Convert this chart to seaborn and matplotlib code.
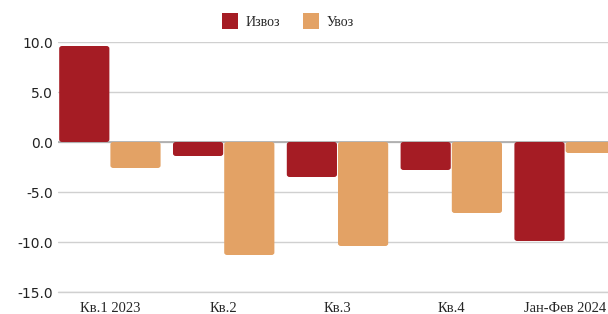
import pandas as pd
import seaborn as sns
import matplotlib.pyplot as plt
from matplotlib.patches import FancyBboxPatch

# data
periods = ["Кв.1 2023", "Кв.2", "Кв.3", "Кв.4", "Јан-Фев 2024"]
izvoz = [9.6, -1.4, -3.5, -2.8, -9.9]
uvoz = [-2.6, -11.3, -10.4, -7.1, -1.1]
yticks = [10, 5, 0, -5, -10, -15]

df = pd.DataFrame({
    "period": periods * 2,
    "value": izvoz + uvoz,
    "series": ["Извоз"] * len(periods) + ["Увоз"] * len(periods),
})

sns.set_style("white")
plt.rcParams['font.family'] = ['DejaVu Sans']

fig = plt.figure(figsize=(6.08, 3.14), dpi=100)
ax = fig.add_axes([58 / 608, 22 / 314, 1 - 58 / 608, 250 / 314])

sns.barplot(data=df, x="period", y="value", hue="series",
            palette=["#A51C24", "#E3A265"], width=0.9, gap=0.02,
            saturation=1, linewidth=0, ax=ax, legend=True, zorder=3)

# slightly rounded bar ends
for p in list(ax.patches):
    x, y = p.get_x(), p.get_y()
    w, hgt = p.get_width(), p.get_height()
    if w == 0 or hgt == 0:
        continue
    box = FancyBboxPatch((x, min(y, y + hgt)), w, abs(hgt),
                         boxstyle="round,pad=0,rounding_size=0.025",
                         mutation_aspect=10, facecolor=p.get_facecolor(),
                         edgecolor="none", zorder=3)
    p.set_visible(False)
    ax.add_patch(box)

ax.set_xlim(-0.456, 4.377)
ax.set_ylim(-15, 10)
ax.set_yticks(yticks)
ax.set_yticklabels([f"{t:.1f}" for t in yticks], fontsize=10, color="#222222")
ax.grid(axis="y", color="#d0d0d0", linewidth=1, zorder=0)
ax.axhline(-15, color="#d0d0d0", linewidth=1, zorder=0, clip_on=False)
ax.axhline(0, color="#aaaaaa", linewidth=1.2, zorder=2)
for s in ax.spines.values():
    s.set_visible(False)
ax.tick_params(axis="both", length=0)
ax.tick_params(axis="x", pad=7)
for lbl in ax.get_xticklabels():
    lbl.set_fontfamily("Liberation Serif")
    lbl.set_fontsize(10.5)
ax.set_xlabel("")
ax.set_ylabel("")

h, l = ax.get_legend_handles_labels()
ax.legend(h, l, loc="center", bbox_to_anchor=(0.418, 1.084), ncol=2,
          frameon=False, handlelength=1.15, handleheight=1.5,
          columnspacing=1.6, handletextpad=0.6,
          prop={"family": "Liberation Serif", "size": 10})

fig.savefig("out.png", dpi=100)
